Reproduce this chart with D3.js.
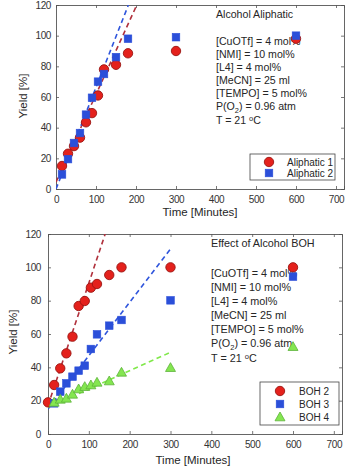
<!DOCTYPE html>
<html><head><meta charset="utf-8">
<script src="https://cdn.jsdelivr.net/npm/d3@7"></script>
<style>
html,body{margin:0;padding:0;background:#fff;}
svg text{font-family:"Liberation Sans",Arial,Helvetica,sans-serif;fill:#262626;}
</style></head>
<body><svg id="c" width="351" height="470"></svg>
<script>
// ---- data ----
const xTicks = [0,100,200,300,400,500,600,700];
const yTicks = [0,20,40,60,80,100,120];

const aliphaticTime = [15,30,45,60,75,90,105,120,150,180,300,600];
const aliphatic1 = [15,23,28,33.5,43.5,49.5,61,78,81,88.5,90,98];
const aliphatic2 = [9.5,19.5,30,36.5,48.5,59.5,70,75,86,98,99,100];
const fitAliphatic1 = [[0,4.5],[202,120]];
const fitAliphatic2 = [[0,0],[181,120]];

const boh2Time = [0,15,30,45,60,75,90,105,120,150,180,300,600];
const boh2 = [19,29.4,39.4,48.4,58.4,76.8,79.8,87.8,90,95.4,100,100,100];
const boh3Time = [15,30,45,60,75,90,105,120,150,180,300,600];
const boh3 = [18.4,25.4,30.4,34.4,38,41,51,59.8,65,68.4,80.2,94.4];
const boh4Time = [15,30,45,60,75,90,105,120,150,180,300,600];
const boh4 = [19,20.8,21.4,23.8,27,28.4,29.4,31,31.8,37,39.8,52.4];
const fitBoh2 = [[0,17],[140,120]];
const fitBoh3 = [[0,15],[300,111]];
const fitBoh4 = [[0,16],[300,49]];

const conditions = ["[CuOTf] = 4 mol%","[NMI] = 10 mol%","[L4] = 4 mol%","[MeCN] = 25 ml","[TEMPO] = 5 mol%","P(O2) = 0.96 atm","T = 21 oC"];

const RED = "#e4211c", RED_EDGE = "#9a1512", RED_FIT = "#b0303c";
const BLUE = "#2b4fd9", BLUE_FIT = "#2f55dc";
const GREEN = "#84e650", GREEN_EDGE = "#5db33a", GREEN_FIT = "#80e84a";

const svg = d3.select("#c");

function panel(cfg) {
  const g = svg.append("g");
  const x = d3.scaleLinear().domain([0,720]).range([cfg.left, cfg.right]);
  const y = d3.scaleLinear().domain([0,120]).range([cfg.bottom, cfg.top]);
  const id = "clip" + cfg.id;
  svg.append("clipPath").attr("id", id).append("rect")
    .attr("x", cfg.left).attr("y", cfg.top).attr("width", cfg.right-cfg.left).attr("height", cfg.bottom-cfg.top);

  const ax = d3.axisBottom(x).tickValues(xTicks).tickSize(-3).tickPadding(7);
  const ay = d3.axisLeft(y).tickValues(yTicks).tickSize(-3).tickPadding(cfg.ypad);
  const axT = d3.axisTop(x).tickValues(xTicks).tickSize(-3).tickFormat("");
  const ayR = d3.axisRight(y).tickValues(yTicks).tickSize(-3).tickFormat("");
  const gx = g.append("g").attr("transform",`translate(0,${cfg.bottom})`).call(ax);
  const gy = g.append("g").attr("transform",`translate(${cfg.left},0)`).call(ay);
  const gt = g.append("g").attr("transform",`translate(0,${cfg.top})`).call(axT);
  const gr = g.append("g").attr("transform",`translate(${cfg.right},0)`).call(ayR);
  [gx,gy,gt,gr].forEach(a => {
    a.select(".domain").attr("stroke","#555").attr("stroke-width",0.9);
    a.selectAll(".tick line").attr("stroke","#555").attr("stroke-width",0.8);
    a.selectAll("text").attr("font-size",10).attr("letter-spacing","-0.4px").style("fill","#333");
  });

  g.append("text").attr("x", cfg.xLabelX).attr("y", cfg.xLabelY).attr("text-anchor","middle")
    .attr("font-size",11.5).text("Time [Minutes]");
  g.append("text").attr("transform",`translate(${cfg.yLabelX},${cfg.yLabelY}) rotate(-90)`)
    .attr("text-anchor","middle").attr("font-size",11.5).text("Yield [%]");

  const ann = g.append("g").attr("font-size", cfg.fs);
  ann.append("text").attr("x", cfg.annX).attr("y", cfg.annY).text(cfg.title);
  conditions.forEach((c,i) => {
    const extra = i === conditions.length-1 ? 1 : 0;
    const t = ann.append("text").attr("x", cfg.annX).attr("y", cfg.condY + i*cfg.lh + extra);
    if (c.startsWith("P(O2)")) {
      t.append("tspan").text("P(O");
      t.append("tspan").attr("dy",2.5).attr("font-size",cfg.fs*0.7).text("2");
      t.append("tspan").attr("dy",-2.5).text(") = 0.96 atm");
    } else if (c.startsWith("T = ")) {
      t.append("tspan").text("T = 21 ");
      t.append("tspan").attr("dy",-3.2).attr("font-size",cfg.fs*0.7).text("o");
      t.append("tspan").attr("dy",3.2).text("C");
    } else t.text(c);
  });

  const line = d3.line().x(d => x(d[0])).y(d => y(d[1]));
  const fg = g.append("g").attr("clip-path",`url(#${id})`);
  cfg.fits.forEach(f => {
    fg.append("path").attr("d", line(f.pts)).attr("fill","none").attr("stroke",f.color)
      .attr("stroke-width",1.6).attr("stroke-dasharray","5,3.5");
  });

  cfg.series.forEach(s => {
    const pts = s.t.map((t,i) => [t, s.v[i]]);
    drawMarkers(g, pts.map(p => [x(p[0]), y(p[1])]), s);
  });

  const lg = g.append("g");
  lg.append("rect").attr("x",cfg.leg.x).attr("y",cfg.leg.y).attr("width",cfg.leg.w).attr("height",cfg.leg.h)
    .attr("fill","#fff").attr("stroke","#444").attr("stroke-width",0.8);
  cfg.series.forEach((s,i) => {
    const yy = cfg.leg.y + cfg.leg.first + i*cfg.leg.step;
    drawMarkers(lg, [[cfg.leg.mx, yy]], s);
    lg.append("text").attr("x", cfg.leg.tx).attr("y", yy+3.6).attr("font-size",10).text(s.name);
  });
}

function drawMarkers(g, pts, s) {
  if (s.shape === "circle") {
    g.selectAll(null).data(pts).enter().append("circle")
      .attr("cx", d=>d[0]).attr("cy", d=>d[1]).attr("r", 4.7)
      .attr("fill", s.fill).attr("stroke", s.edge).attr("stroke-width",0.9);
  } else if (s.shape === "square") {
    g.selectAll(null).data(pts).enter().append("rect")
      .attr("x", d=>d[0]-3.8).attr("y", d=>d[1]-3.8).attr("width",7.6).attr("height",7.6)
      .attr("fill", s.fill).attr("stroke", s.edge).attr("stroke-width",0.6);
  } else {
    g.selectAll(null).data(pts).enter().append("path")
      .attr("d", d => `M${d[0]},${d[1]-5}L${d[0]+5},${d[1]+3.8}L${d[0]-5},${d[1]+3.8}Z`)
      .attr("fill", s.fill).attr("stroke", s.edge).attr("stroke-width",0.8);
  }
}

panel({
  id:1, left:56, right:344, top:5, bottom:189, ypad:5,
  xLabelX:200, xLabelY:216, yLabelX:27, yLabelY:96,
  title:"Alcohol Aliphatic", annX:216, annY:18, condY:44.7, lh:13.1, fs:10.6,
  fits:[{pts:fitAliphatic1,color:RED_FIT},{pts:fitAliphatic2,color:BLUE_FIT}],
  series:[
    {name:"Aliphatic 1", t:aliphaticTime, v:aliphatic1, shape:"circle", fill:RED, edge:RED_EDGE},
    {name:"Aliphatic 2", t:aliphaticTime, v:aliphatic2, shape:"square", fill:BLUE, edge:BLUE}
  ],
  leg:{x:250,y:154,w:85,h:26,first:8,step:11,mx:269,tx:287}
});

panel({
  id:2, left:48, right:342, top:234, bottom:434, ypad:7,
  xLabelX:193, xLabelY:464, yLabelX:17, yLabelY:332,
  title:"Effect of Alcohol BOH", annX:211, annY:247, condY:277.3, lh:14, fs:10.8,
  fits:[{pts:fitBoh2,color:RED_FIT},{pts:fitBoh3,color:BLUE_FIT},{pts:fitBoh4,color:GREEN_FIT}],
  series:[
    {name:"BOH 2", t:boh2Time, v:boh2, shape:"circle", fill:RED, edge:RED_EDGE},
    {name:"BOH 3", t:boh3Time, v:boh3, shape:"square", fill:BLUE, edge:BLUE},
    {name:"BOH 4", t:boh4Time, v:boh4, shape:"triangle", fill:GREEN, edge:GREEN_EDGE}
  ],
  leg:{x:260,y:382,w:79,h:43,first:9,step:13,mx:280,tx:299}
});
</script></body></html>
